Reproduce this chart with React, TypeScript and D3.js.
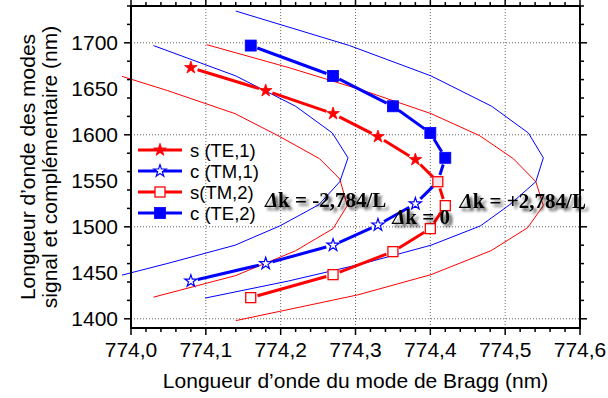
import React from 'react';
import * as d3 from 'd3';

// ---------- data ----------
const xTickValues = [774.0, 774.1, 774.2, 774.3, 774.4, 774.5, 774.6];
const xTickLabels = ['774,0', '774,1', '774,2', '774,3', '774,4', '774,5', '774,6'];
const yTickValues = [1400, 1450, 1500, 1550, 1600, 1650, 1700];
const yTickLabels = ['1400', '1450', '1500', '1550', '1600', '1650', '1700'];
const yGridValues = [1400, 1500, 1600, 1700];
const xGridValues = [774.1, 774.2, 774.3, 774.4, 774.5];

// main series
const sTE1X = [774.08, 774.18, 774.27, 774.33, 774.38];
const sTE1Y = [1673, 1648, 1623, 1598, 1573];
const cTM1X = [774.08, 774.18, 774.27, 774.33, 774.38];
const cTM1Y = [1441, 1460, 1480, 1502, 1525];
const sTM2X = [774.16, 774.27, 774.35, 774.40, 774.42, 774.41];
const sTM2Y = [1423, 1448, 1473, 1498, 1523, 1549];
const cTE2X = [774.16, 774.27, 774.35, 774.40, 774.42];
const cTE2Y = [1697, 1664, 1631, 1602, 1575];

// envelope curves, Δk = -2,784/L (left) and +2,784/L (right)
const redLeftX = [773.988, 774.049, 774.139, 774.199, 774.252, 774.279, 774.289, 774.270, 774.220, 774.140, 774.030];
const redLeftY = [1663.5, 1648, 1623, 1598, 1574, 1552, 1523, 1498, 1474, 1447, 1423.5];
const blueLeftX = [774.030, 774.140, 774.220, 774.269, 774.290, 774.279, 774.251, 774.199, 774.139, 774.048, 773.988];
const blueLeftY = [1697, 1664, 1631, 1602, 1575, 1549, 1524, 1501, 1480, 1460, 1447.5];
const blueRightX = [774.140, 774.292, 774.401, 774.482, 774.531, 774.551, 774.541, 774.506, 774.467, 774.401, 774.310, 774.210, 774.099];
const blueRightY = [1734.5, 1697, 1664, 1631, 1602, 1575, 1549, 1524, 1501, 1480, 1460, 1441, 1422.5];
const redRightX = [774.101, 774.211, 774.311, 774.401, 774.466, 774.511, 774.541, 774.551, 774.530, 774.481, 774.401, 774.303, 774.140];
const redRightY = [1698, 1673, 1648, 1623, 1599, 1574, 1549, 1523, 1499, 1474, 1448, 1426, 1398];

const legendLabels = ['s (TE,1)', 'c (TM,1)', 's(TM,2)', 'c (TE,2)'];

// ---------- layout ----------
const W = 608;
const H = 398;
const plot = { left: 131, right: 580, top: 6, bottom: 328 };
const RED = '#ff0000';
const BLUE = '#0000ff';
const SANS = '"Liberation Sans", Arial, Helvetica, sans-serif';
const SERIF = '"Liberation Serif", "Times New Roman", serif';

const x = d3.scaleLinear().domain([774.0, 774.6]).range([plot.left, plot.right]);
const y = d3.scaleLinear().domain([1390, 1740]).range([plot.bottom, plot.top]);

const zip = (xs: number[], ys: number[]) => xs.map((v, i) => [x(v), y(ys[i])] as [number, number]);
const line = d3.line<[number, number]>();

const starPath = d3.symbol(d3.symbolStar, 50)() as string;
const openStarPath = d3.symbol(d3.symbolStar, 46)() as string;

function segments(pts: [number, number][], gap: number) {
  const out: string[] = [];
  for (let i = 0; i < pts.length - 1; i++) {
    const [x0, y0] = pts[i];
    const [x1, y1] = pts[i + 1];
    const dx = x1 - x0, dy = y1 - y0;
    const len = Math.hypot(dx, dy);
    if (len <= 2 * gap) continue;
    const ux = dx / len, uy = dy / len;
    out.push(`M${x0 + ux * gap},${y0 + uy * gap}L${x1 - ux * gap},${y1 - uy * gap}`);
  }
  return out.join('');
}

const xMinor = d3.range(0, 31).map((i) => 774.0 + i * 0.02);
const yMinor = d3.range(1400, 1741, 20);

type MarkerKind = 'star' | 'openStar' | 'openSquare' | 'square';
function Marker({ kind, cx, cy, fill }: { kind: MarkerKind; cx: number; cy: number; fill?: string }) {
  if (kind === 'star') return <path d={starPath} transform={`translate(${cx},${cy})`} fill={RED} stroke={RED} strokeWidth={0.8} />;
  if (kind === 'openStar') return <path d={openStarPath} transform={`translate(${cx},${cy})`} fill="#fff" stroke={BLUE} strokeWidth={1.2} />;
  if (kind === 'openSquare') return <rect x={cx - 5} y={cy - 5} width={10} height={10} fill={fill || '#fff'} stroke={RED} strokeWidth={1.3} />;
  return <rect x={cx - 5.5} y={cy - 5.5} width={11} height={11} fill={BLUE} stroke={BLUE} strokeWidth={0.8} />;
}

export default function App() {
  const sTE1 = zip(sTE1X, sTE1Y);
  const cTM1 = zip(cTM1X, cTM1Y);
  const sTM2 = zip(sTM2X, sTM2Y);
  const cTE2 = zip(cTE2X, cTE2Y);
  const junction = sTM2[sTM2.length - 1];
  const redMain = [...sTE1, ...sTM2.slice().reverse()];
  const blueMain = [...cTE2, junction, ...cTM1.slice().reverse()];

  const legendItems: { color: string; kind: MarkerKind }[] = [
    { color: RED, kind: 'star' },
    { color: BLUE, kind: 'openStar' },
    { color: RED, kind: 'openSquare' },
    { color: BLUE, kind: 'square' },
  ];
  const legendY = [150, 171, 192, 213];

  return (
    <svg width={W} height={H} style={{ position: 'fixed', left: 0, top: 0, background: '#fff' }} fontFamily={SANS}>
      <defs>
        <filter id="shadow" x="-10%" y="-40%" width="130%" height="190%">
          <feGaussianBlur in="SourceAlpha" stdDeviation="1.8" />
          <feOffset dx="2.5" dy="3" result="b" />
          <feComponentTransfer><feFuncA type="linear" slope="0.7" /></feComponentTransfer>
          <feMerge><feMergeNode /><feMergeNode in="SourceGraphic" /></feMerge>
        </filter>
      </defs>
      <rect x={0} y={0} width={W} height={H} fill="#fff" />

      {/* grid */}
      {xGridValues.map((v) => (
        <line key={'gx' + v} x1={x(v)} x2={x(v)} y1={plot.top} y2={plot.bottom} stroke="#666" strokeWidth={1} strokeDasharray="1 2" />
      ))}
      {yGridValues.map((v) => (
        <line key={'gy' + v} x1={plot.left} x2={plot.right} y1={y(v)} y2={y(v)} stroke="#666" strokeWidth={1} strokeDasharray="1 2" />
      ))}

      {/* envelope curves */}
      <path d={line(zip(redLeftX, redLeftY)) as string} fill="none" stroke={RED} strokeWidth={1} />
      <path d={line(zip(blueLeftX, blueLeftY)) as string} fill="none" stroke={BLUE} strokeWidth={1} />
      <path d={line(zip(redRightX, redRightY)) as string} fill="none" stroke={RED} strokeWidth={1} />
      <path d={line(zip(blueRightX, blueRightY)) as string} fill="none" stroke={BLUE} strokeWidth={1} />

      {/* main lines */}
      <path d={segments(redMain, 7)} fill="none" stroke={RED} strokeWidth={3} />
      <path d={segments(blueMain, 7)} fill="none" stroke={BLUE} strokeWidth={3} />

      {/* markers */}
      {cTE2.map(([cx, cy], i) => <Marker key={'a' + i} kind="square" cx={cx} cy={cy} />)}
      {sTE1.map(([cx, cy], i) => <Marker key={'b' + i} kind="star" cx={cx} cy={cy} />)}
      {cTM1.map(([cx, cy], i) => <Marker key={'c' + i} kind="openStar" cx={cx} cy={cy} />)}
      {sTM2.map(([cx, cy], i) => (
        <Marker key={'d' + i} kind="openSquare" cx={cx} cy={cy} fill={i === sTM2.length - 1 ? '#fbe3ea' : '#fff'} />
      ))}

      {/* axes frame */}
      <rect x={plot.left} y={plot.top} width={plot.right - plot.left} height={plot.bottom - plot.top} fill="none" stroke="#000" strokeWidth={2} />

      {/* x ticks */}
      {xMinor.map((v, i) => {
        const major = i % 5 === 0;
        const len = major ? 7 : 4;
        return (
          <g key={'xt' + i}>
            <line x1={x(v)} x2={x(v)} y1={plot.bottom} y2={plot.bottom + len} stroke="#000" strokeWidth={1.5} />
            <line x1={x(v)} x2={x(v)} y1={plot.top} y2={plot.top - len} stroke="#000" strokeWidth={1.5} />
          </g>
        );
      })}
      {xTickValues.map((v, i) => (
        <text key={'xl' + i} x={x(v)} y={357} textAnchor="middle" fontSize={21} fill="#000">{xTickLabels[i]}</text>
      ))}

      {/* y ticks */}
      {yMinor.map((v) => {
        const major = v % 100 === 0;
        const len = major ? 7 : 4;
        return (
          <g key={'yt' + v}>
            <line x1={plot.left} x2={plot.left - len} y1={y(v)} y2={y(v)} stroke="#000" strokeWidth={1.5} />
            <line x1={plot.right} x2={plot.right + len} y1={y(v)} y2={y(v)} stroke="#000" strokeWidth={1.5} />
          </g>
        );
      })}
      {yTickValues.map((v, i) => (
        <text key={'yl' + i} x={118} y={y(v)} dy="0.36em" textAnchor="end" fontSize={21} fill="#000">{yTickLabels[i]}</text>
      ))}

      {/* axis titles */}
      <text x={(plot.left + plot.right) / 2} y={388} textAnchor="middle" fontSize={21} fill="#000">
        Longueur d’onde du mode de Bragg (nm)
      </text>
      <text transform={`translate(35,${(plot.top + plot.bottom) / 2}) rotate(-90)`} textAnchor="middle" fontSize={21} fill="#000">
        Longueur d’onde des modes
      </text>
      <text transform={`translate(57,${(plot.top + plot.bottom) / 2}) rotate(-90)`} textAnchor="middle" fontSize={21} fill="#000">
        signal et complémentaire (nm)
      </text>

      {/* legend */}
      {legendItems.map((it, i) => (
        <g key={'lg' + i}>
          <line x1={138} x2={182} y1={legendY[i]} y2={legendY[i]} stroke={it.color} strokeWidth={3} />
          <Marker kind={it.kind} cx={160} cy={legendY[i]} />
          <text x={190} y={legendY[i]} dy="0.36em" fontSize={18.5} fill="#000">{legendLabels[i]}</text>
        </g>
      ))}

      {/* annotations */}
      <g fontFamily={SERIF} fontWeight="bold" fontSize={21} fill="#000" filter="url(#shadow)">
        <text x={x(774.179)} y={y(1522)}><tspan fontStyle="italic">Δ</tspan>k = -2,784/L</text>
        <text x={x(774.439)} y={y(1520.5)}><tspan fontStyle="italic">Δ</tspan>k = +2,784/L</text>
        <text x={x(774.349)} y={y(1503)}><tspan fontStyle="italic">Δ</tspan>k = 0</text>
      </g>
    </svg>
  );
}
